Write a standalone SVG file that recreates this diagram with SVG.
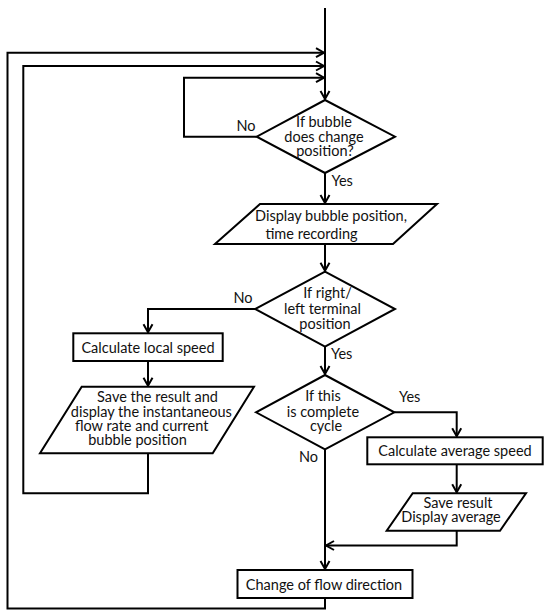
<svg xmlns="http://www.w3.org/2000/svg" width="550" height="615" viewBox="0 0 550 615">
<style>
.s{fill:#fff;stroke:#000;stroke-width:2}
.c{fill:none;stroke:#000;stroke-width:2}
text{font-family:Lato,"Liberation Sans",sans-serif;font-size:14.5px;fill:#111}
.m{text-anchor:middle}
</style>
<defs>
<marker id="a" markerUnits="userSpaceOnUse" markerWidth="14" markerHeight="14" viewBox="-11 -7 14 14" refX="0" refY="0" orient="auto">
<path d="M-8,-4.5 L0,0 L-8,4.5" fill="none" stroke="#000" stroke-width="2"/>
</marker>
</defs>
<rect width="550" height="615" fill="#fff"/>
<g id="connectors">
<path class="c" d="M325,8 V99" marker-end="url(#a)"/>
<path class="c" d="M256.7,136.7 H184 V77.7 H324" marker-end="url(#a)"/>
<path class="c" d="M325,173 V203" marker-end="url(#a)"/>
<path class="c" d="M325,244 V270.7" marker-end="url(#a)"/>
<path class="c" d="M255,309 H148 V332.3" marker-end="url(#a)"/>
<path class="c" d="M148,361 V385.7" marker-end="url(#a)"/>
<path class="c" d="M148,453.3 V493.3 H23.3 V66 H324" marker-end="url(#a)"/>
<path class="c" d="M325,346.7 V374" marker-end="url(#a)"/>
<path class="c" d="M394.3,412.3 H456.7 V436.3" marker-end="url(#a)"/>
<path class="c" d="M456.7,464.3 V492.3" marker-end="url(#a)"/>
<path class="c" d="M456.7,530.7 V545.5 H326" marker-end="url(#a)"/>
<path class="c" d="M325,449.3 V569" marker-end="url(#a)"/>
<path class="c" d="M325,598 V608.5 H7.5 V52.7 H324" marker-end="url(#a)"/>
<text x="246" y="131" class="m">No</text>
<text x="331.5" y="186">Yes</text>
<text x="243" y="303" class="m">No</text>
<text x="331" y="359">Yes</text>
<text x="399" y="402">Yes</text>
<text x="299" y="462">No</text>
</g>
<g id="d1">
<polygon class="s" points="325,100 395,136.7 325,173 256.7,136.7"/>
<text x="324" y="126.7" class="m">If bubble</text>
<text x="324" y="141.7" class="m">does change</text>
<text x="325" y="156" class="m">position?</text>
</g>
<g id="p1">
<polygon class="s" points="260,204 437,204 393,244 215,244"/>
<text x="331" y="221" class="m">Display bubble position,</text>
<text x="311.5" y="239" class="m">time recording</text>
</g>
<g id="d2">
<polygon class="s" points="325,271.7 395,309 325,346.7 255,309"/>
<text x="327.5" y="298" class="m">If right/</text>
<text x="322.5" y="314" class="m">left terminal</text>
<text x="325" y="329" class="m">position</text>
</g>
<g id="r1">
<rect class="s" x="73.3" y="333.3" width="149.4" height="27.7"/>
<text x="148" y="352.5" class="m">Calculate local speed</text>
</g>
<g id="p2">
<polygon class="s" points="81.7,386.7 254,386.7 212.7,453.3 40,453.3"/>
<text x="157.5" y="401.5" class="m">Save the result and</text>
<text x="151.3" y="416.5" class="m">display the instantaneous</text>
<text x="141.7" y="431" class="m">flow rate and current</text>
<text x="137.5" y="445" class="m">bubble position</text>
</g>
<g id="d3">
<polygon class="s" points="325,375 394.3,412.3 325,449.3 256,412.3"/>
<text x="323" y="400.7" class="m">If this</text>
<text x="323" y="416.7" class="m">is complete</text>
<text x="326" y="430.7" class="m">cycle</text>
</g>
<g id="r2">
<rect class="s" x="367.3" y="437.3" width="175.4" height="27"/>
<text x="455" y="456" class="m">Calculate average speed</text>
</g>
<g id="p3">
<polygon class="s" points="412.7,493.3 526,493.3 500,530.7 386.7,530.7"/>
<text x="458" y="507.7" class="m">Save result</text>
<text x="451" y="522" class="m">Display average</text>
</g>
<g id="r3">
<rect class="s" x="237.5" y="570" width="175" height="28"/>
<text x="324" y="590" class="m">Change of flow direction</text>
</g>
</svg>
